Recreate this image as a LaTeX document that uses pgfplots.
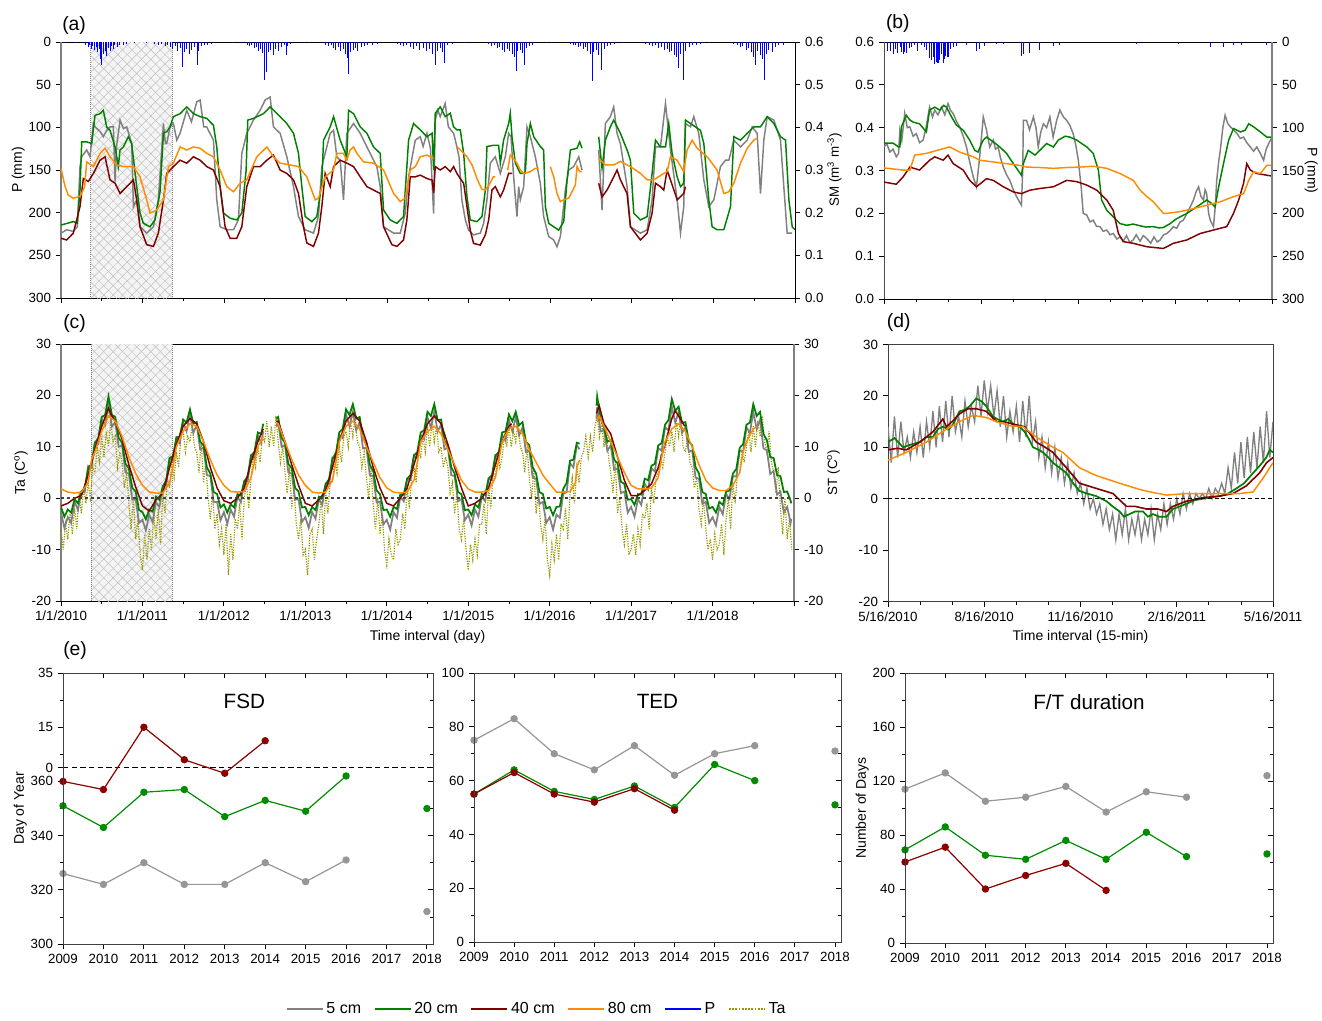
\documentclass[border=0pt]{standalone}
\usepackage{fontspec}
\setmainfont{Liberation Sans}
\usepackage{pgfplots}
\pgfplotsset{compat=1.18}
\usetikzlibrary{patterns.meta}

\definecolor{c5}{RGB}{128,128,128}
\definecolor{c20}{RGB}{0,128,0}
\definecolor{c40}{RGB}{128,0,0}
\definecolor{c80}{RGB}{255,140,0}
\definecolor{cP}{RGB}{0,0,255}
\definecolor{cTa}{RGB}{150,150,0}
\definecolor{c5e}{RGB}{150,150,150}
\definecolor{c20e}{RGB}{0,140,0}
\definecolor{c40e}{RGB}{140,0,0}

\pgfplotsset{
  every non boxed x axis/.style={},
  every non boxed y axis/.style={},
  base/.style={
    scale only axis, enlargelimits=false,
    tick align=outside, major tick length=4pt, minor tick length=2.5pt,
    tick style={black, line width=0.6pt},
    tick label style={font=\fontsize{10}{12}\selectfont},
    label style={font=\fontsize{10.5}{12.6}\selectfont},
    /pgf/number format/assume math mode=true,
    axis line style={line width=0.7pt},
    ylabel shift=-4pt,
  },
  eaxis/.style={base, xmin=2009, xmax=2018.15, xtick={2009,...,2018},
    xticklabel style={/pgf/number format/1000 sep={}},
    xtick pos=left, ytick pos=left, axis line style={black!75},
    every axis plot/.append style={line width=0.9pt, mark size=2.3pt, mark options={solid}}},
  einner/.style={scale only axis, enlargelimits=false, xmin=2009, xmax=2018.15,
    xtick={2009,...,2018}, xticklabels={}, yticklabels={}, xtick pos=right, ytick pos=right,
    tick align=inside, major tick length=4pt, minor tick length=2.5pt,
    tick style={black, line width=0.6pt}, axis line style={black!75, line width=0.7pt}},
}

\begin{document}
\begin{tikzpicture}
\useasboundingbox (0pt,0pt) rectangle (991.5pt,-765.75pt);

% ---------------- (a) precipitation and soil moisture, daily ----------------
\begin{axis}[base, at={(45.75pt,-223.5pt)}, anchor=south west, width=550.5pt, height=192pt,
  xmin=2010, xmax=2019, ymin=0, ymax=300, y dir=reverse,
  axis x line*=box, axis y line*=left,
  x axis line style={-, black}, y axis line style={-, gray, line width=1.4pt},
  xtick={2010,...,2019}, minor xtick={2010.5,2011.5,...,2018.5}, xticklabels={}, xtick pos=left,
  ytick={0,50,...,300}, ylabel={P (mm)}]
 \fill[gray!9] (axis cs:2010.365,0) rectangle (axis cs:2011.365,300);
 \fill[pattern={Lines[angle=45,distance=5pt,line width=0.35pt]}, pattern color=gray!50] (axis cs:2010.365,0) rectangle (axis cs:2011.365,300);
 \fill[pattern={Lines[angle=-45,distance=5pt,line width=0.35pt]}, pattern color=gray!50] (axis cs:2010.365,0) rectangle (axis cs:2011.365,300);
 \draw[gray, densely dotted, line width=0.5pt] (axis cs:2010.365,0) -- (axis cs:2010.365,300) (axis cs:2011.365,0) -- (axis cs:2011.365,300);
 \addplot[ycomb, cP, line width=0.6pt] coordinates {
 (2010.05,1) (2010.18,1) (2010.30,3) (2010.33,6) (2010.35,4) (2010.37,8) (2010.39,5) (2010.41,9) (2010.43,6) (2010.45,12) (2010.47,8) (2010.48,20) (2010.50,27) (2010.52,14) (2010.54,10) (2010.56,16) (2010.58,7) (2010.60,11) (2010.62,5) (2010.64,8) (2010.66,4) (2010.69,6) (2010.72,3) (2010.76,4) (2010.80,2) (2010.90,1)
 (2011.05,1) (2011.15,2) (2011.20,3) (2011.23,2) (2011.28,5) (2011.31,4) (2011.34,6) (2011.37,8) (2011.40,5) (2011.43,10) (2011.46,7) (2011.49,29) (2011.51,12) (2011.54,8) (2011.57,14) (2011.60,9) (2011.63,6) (2011.67,27) (2011.69,10) (2011.72,5) (2011.76,4) (2011.80,3) (2011.85,2)
 (2012.10,1) (2012.28,3) (2012.31,5) (2012.34,4) (2012.37,7) (2012.40,6) (2012.42,10) (2012.45,8) (2012.47,13) (2012.49,20) (2012.50,44) (2012.52,35) (2012.54,12) (2012.57,9) (2012.60,15) (2012.63,8) (2012.66,11) (2012.70,6) (2012.74,4) (2012.76,15) (2012.78,5) (2012.81,2)
 (2013.05,1) (2013.24,3) (2013.28,5) (2013.31,4) (2013.34,7) (2013.37,9) (2013.40,6) (2013.43,11) (2013.46,8) (2013.49,14) (2013.51,19) (2013.53,37) (2013.55,12) (2013.58,9) (2013.61,7) (2013.64,10) (2013.68,6) (2013.72,5) (2013.76,3) (2013.82,4) (2013.88,2)
 (2014.12,2) (2014.16,3) (2014.20,5) (2014.24,4) (2014.28,6) (2014.32,8) (2014.36,5) (2014.40,9) (2014.44,7) (2014.48,11) (2014.52,8) (2014.56,14) (2014.59,27) (2014.62,10) (2014.65,7) (2014.68,12) (2014.70,25) (2014.74,4) (2014.80,2) (2014.95,1)
 (2015.24,2) (2015.28,5) (2015.32,4) (2015.35,7) (2015.38,6) (2015.41,9) (2015.44,12) (2015.47,8) (2015.50,10) (2015.53,14) (2015.56,18) (2015.58,34) (2015.60,11) (2015.63,9) (2015.66,13) (2015.68,27) (2015.71,7) (2015.74,5) (2015.78,3) (2015.95,1)
 (2016.25,2) (2016.28,4) (2016.31,3) (2016.34,6) (2016.37,5) (2016.40,8) (2016.43,6) (2016.46,10) (2016.49,14) (2016.51,46) (2016.53,12) (2016.56,9) (2016.59,15) (2016.63,33) (2016.66,8) (2016.70,5) (2016.74,3) (2016.78,2) (2016.90,1)
 (2017.17,2) (2017.21,3) (2017.25,5) (2017.29,4) (2017.33,7) (2017.36,6) (2017.40,9) (2017.43,8) (2017.46,12) (2017.49,10) (2017.52,15) (2017.55,18) (2017.57,31) (2017.60,14) (2017.63,45) (2017.66,11) (2017.70,6) (2017.74,4) (2017.79,3) (2017.84,2) (2017.95,1)
 (2018.25,2) (2018.29,4) (2018.33,6) (2018.36,5) (2018.40,9) (2018.43,7) (2018.46,12) (2018.49,18) (2018.52,27) (2018.54,11) (2018.57,15) (2018.60,20) (2018.62,44) (2018.65,14) (2018.68,9) (2018.72,12) (2018.76,6) (2018.80,4) (2018.86,3)
 };
\end{axis}

\begin{axis}[base, at={(45.75pt,-223.5pt)}, anchor=south west, width=550.5pt, height=192pt,
  xmin=2010, xmax=2019, ymin=0, ymax=0.6,
  axis x line=none, axis y line*=right, y axis line style={-, black},
  ytick={0,0.1,0.2,0.3,0.4,0.5,0.6},
  yticklabel style={/pgf/number format/.cd, fixed, fixed zerofill, precision=1},
  ylabel={SM (m\textsuperscript{3} m\textsuperscript{-3})}, ylabel near ticks, yticklabel pos=right,
  unbounded coords=jump, every axis plot/.append style={line width=1.1pt}]
 \addplot[c5] coordinates {
 (2010.000,.152) (2010.070,.160) (2010.151,.156) (2010.200,.167) (2010.233,.308) (2010.254,.331) (2010.315,.347) (2010.356,.331) (2010.397,.409) (2010.417,.401) (2010.479,.390) (2010.519,.378) (2010.560,.393) (2010.601,.401) (2010.642,.401) (2010.663,.273) (2010.683,.358) (2010.724,.417) (2010.765,.397) (2010.806,.401) (2010.867,.362) (2010.888,.214) (2010.928,.230) (2010.969,.167)
 (2011.010,.160) (2011.051,.152) (2011.133,.167) (2011.194,.230) (2011.256,.409) (2011.280,.362) (2011.297,.362) (2011.337,.401) (2011.378,.409) (2011.420,.370) (2011.460,.386) (2011.542,.440) (2011.600,.413) (2011.665,.460) (2011.706,.464) (2011.750,.401) (2011.787,.401) (2011.869,.370) (2011.910,.230) (2011.951,.167)
 (2012.033,.160) (2012.115,.160) (2012.176,.183) (2012.217,.339) (2012.278,.386) (2012.360,.417) (2012.442,.440) (2012.503,.464) (2012.564,.471) (2012.605,.401) (2012.687,.386) (2012.769,.331) (2012.851,.261) (2012.912,.191) (2012.994,.160)
 (2013.096,.152) (2013.157,.191) (2013.198,.308) (2013.301,.386) (2013.342,.393) (2013.382,.331) (2013.423,.323) (2013.464,.230) (2013.505,.386) (2013.587,.409) (2013.669,.386) (2013.751,.354) (2013.873,.308) (2013.914,.261) (2013.955,.167)
 (2014.078,.152) (2014.160,.152) (2014.221,.199) (2014.262,.284) (2014.344,.370) (2014.405,.378) (2014.440,.355) (2014.487,.386) (2014.530,.351) (2014.569,.198) (2014.589,.417) (2014.620,.440) (2014.650,.425) (2014.710,.456) (2014.750,.401) (2014.814,.386) (2014.840,.366) (2014.880,.331) (2014.915,.230) (2014.958,.183) (2014.998,.159)
 (2015.059,.148) (2015.141,.152) (2015.182,.175) (2015.223,.230) (2015.264,.316) (2015.325,.331) (2015.387,.292) (2015.448,.331) (2015.489,.386) (2015.518,.378) (2015.550,.284) (2015.591,.191) (2015.612,.261) (2015.632,.230) (2015.673,.261) (2015.714,.401) (2015.755,.378) (2015.816,.331) (2015.877,.269) (2015.918,.191) (2015.980,.144)
 (2016.041,.136) (2016.082,.120) (2016.123,.144) (2016.184,.253) (2016.225,.300) (2016.287,.308) (2016.348,.331) (2016.389,.300) (2016.5,nan) (2016.593,.347) (2016.634,.206) (2016.675,.409) (2016.736,.425) (2016.777,.448) (2016.818,.386) (2016.859,.362) (2016.941,.261) (2016.982,.167)
 (2017.105,.152) (2017.187,.160) (2017.248,.230) (2017.289,.354) (2017.350,.354) (2017.412,.456) (2017.473,.347) (2017.555,.230) (2017.596,.152) (2017.636,.214) (2017.657,.409) (2017.718,.401) (2017.759,.425) (2017.820,.386) (2017.882,.277) (2017.943,.214)
 (2018.005,.230) (2018.086,.308) (2018.148,.323) (2018.189,.323) (2018.250,.370) (2018.332,.354) (2018.414,.370) (2018.475,.401) (2018.536,.386) (2018.577,.245) (2018.618,.370) (2018.659,.425) (2018.741,.417) (2018.822,.370) (2018.863,.261) (2018.904,.152) (2018.966,.152)
 };
 \addplot[c20] coordinates {
 (2010.000,.171) (2010.151,.179) (2010.200,.175) (2010.233,.253) (2010.254,.366) (2010.315,.366) (2010.376,.362) (2010.417,.428) (2010.479,.432) (2010.519,.440) (2010.560,.401) (2010.601,.393) (2010.663,.354) (2010.703,.308) (2010.724,.347) (2010.765,.354) (2010.826,.378) (2010.867,.362) (2010.928,.261) (2010.969,.199)
 (2011.010,.175) (2011.092,.167) (2011.153,.183) (2011.215,.249) (2011.256,.386) (2011.297,.390) (2011.337,.401) (2011.378,.425) (2011.460,.432) (2011.542,.448) (2011.624,.432) (2011.706,.425) (2011.787,.421) (2011.869,.405) (2011.910,.354) (2011.951,.261) (2011.992,.199)
 (2012.074,.187) (2012.155,.183) (2012.217,.199) (2012.270,.300) (2012.290,.417) (2012.360,.421) (2012.483,.432) (2012.564,.448) (2012.687,.425) (2012.769,.409) (2012.851,.386) (2012.912,.339) (2012.953,.261) (2012.994,.191)
 (2013.076,.179) (2013.137,.191) (2013.198,.269) (2013.219,.370) (2013.301,.401) (2013.342,.425) (2013.423,.370) (2013.505,.331) (2013.526,.440) (2013.587,.432) (2013.669,.401) (2013.751,.386) (2013.832,.354) (2013.914,.339) (2013.955,.206)
 (2014.037,.183) (2014.119,.175) (2014.200,.191) (2014.241,.308) (2014.262,.370) (2014.323,.409) (2014.405,.394) (2014.487,.378) (2014.550,.386) (2014.569,.300) (2014.589,.433) (2014.650,.448) (2014.712,.425) (2014.773,.433) (2014.814,.401) (2014.855,.394) (2014.896,.394) (2014.937,.339) (2014.978,.237)
 (2015.018,.183) (2015.100,.179) (2015.162,.191) (2015.203,.253) (2015.223,.355) (2015.305,.358) (2015.366,.358) (2015.387,.316) (2015.427,.370) (2015.489,.409) (2015.509,.433) (2015.530,.378) (2015.571,.316) (2015.632,.292) (2015.693,.292) (2015.714,.362) (2015.755,.409) (2015.796,.378) (2015.877,.355) (2015.918,.347) (2015.939,.214) (2015.980,.175)
 (2016.041,.167) (2016.102,.159) (2016.164,.179) (2016.205,.276) (2016.246,.347) (2016.327,.351) (2016.360,.366) (2016.389,.351) (2016.5,nan) (2016.593,.378) (2016.634,.304) (2016.675,.370) (2016.736,.401) (2016.777,.417) (2016.859,.386) (2016.941,.347) (2016.982,.323)
 (2017.023,.199) (2017.105,.183) (2017.187,.191) (2017.248,.292) (2017.289,.370) (2017.350,.354) (2017.412,.354) (2017.452,.409) (2017.493,.339) (2017.555,.284) (2017.596,.261) (2017.636,.269) (2017.657,.417) (2017.718,.409) (2017.841,.393) (2017.882,.362) (2017.943,.230) (2017.984,.167)
 (2018.045,.160) (2018.127,.160) (2018.209,.214) (2018.250,.378) (2018.332,.370) (2018.414,.386) (2018.495,.401) (2018.577,.401) (2018.659,.425) (2018.741,.409) (2018.822,.378) (2018.884,.370) (2018.925,.230) (2018.966,.167) (2019.000,.160)
 };
 \addplot[c40] coordinates {
 (2010.000,.140) (2010.070,.136) (2010.151,.152) (2010.233,.214) (2010.274,.280) (2010.335,.273) (2010.397,.292) (2010.479,.323) (2010.540,.331) (2010.601,.277) (2010.663,.269) (2010.724,.245) (2010.806,.261) (2010.888,.277) (2010.928,.230) (2010.969,.167)
 (2011.051,.125) (2011.133,.121) (2011.194,.152) (2011.256,.230) (2011.297,.292) (2011.378,.308) (2011.460,.323) (2011.542,.316) (2011.624,.331) (2011.706,.323) (2011.787,.308) (2011.869,.300) (2011.951,.261)
 (2012.012,.167) (2012.074,.140) (2012.155,.140) (2012.217,.167) (2012.278,.261) (2012.360,.308) (2012.442,.308) (2012.524,.323) (2012.605,.335) (2012.687,.300) (2012.769,.292) (2012.851,.277) (2012.912,.245) (2012.973,.167)
 (2013.014,.129) (2013.096,.121) (2013.157,.152) (2013.198,.214) (2013.239,.292) (2013.301,.261) (2013.342,.308) (2013.423,.323) (2013.505,.316) (2013.587,.308) (2013.669,.284) (2013.751,.261) (2013.832,.253) (2013.914,.245) (2013.955,.167)
 (2014.057,.125) (2014.119,.121) (2014.200,.136) (2014.241,.183) (2014.282,.284) (2014.344,.284) (2014.405,.288) (2014.487,.280) (2014.550,.276) (2014.569,.246) (2014.589,.308) (2014.650,.300) (2014.712,.308) (2014.773,.296) (2014.814,.308) (2014.855,.292) (2014.896,.280) (2014.937,.269) (2014.978,.214)
 (2015.018,.159) (2015.059,.128) (2015.141,.124) (2015.203,.148) (2015.244,.183) (2015.284,.253) (2015.325,.261) (2015.387,.237) (2015.427,.253) (2015.489,.292) (2015.530,.292) (2016.0,nan)
 (2016.593,.269) (2016.634,.237) (2016.695,.253) (2016.757,.276) (2016.818,.300) (2016.859,.277) (2016.941,.245) (2016.982,.167)
 (2017.105,.136) (2017.187,.152) (2017.248,.199) (2017.289,.269) (2017.350,.261) (2017.391,.253) (2017.432,.300) (2017.473,.277) (2017.555,.230) (2017.636,.245) (2017.657,.261)
 };
 \addplot[c80] coordinates {
 (2010.000,.304) (2010.050,.261) (2010.090,.241) (2010.151,.234) (2010.233,.238) (2010.290,.261) (2010.315,.319) (2010.397,.308) (2010.479,.339) (2010.540,.351) (2010.601,.331) (2010.683,.312) (2010.765,.308) (2010.888,.308) (2010.969,.284)
 (2011.051,.230) (2011.092,.199) (2011.174,.206) (2011.256,.230) (2011.317,.308) (2011.378,.316) (2011.460,.354) (2011.542,.347) (2011.624,.354) (2011.706,.351) (2011.787,.339) (2011.869,.331) (2011.951,.300)
 (2012.033,.261) (2012.115,.249) (2012.196,.269) (2012.278,.277) (2012.401,.331) (2012.524,.354) (2012.605,.331) (2012.687,.316) (2012.810,.312) (2012.912,.308)
 (2013.014,.284) (2013.117,.230) (2013.157,.234) (2013.239,.284) (2013.342,.300) (2013.382,.339) (2013.464,.339) (2013.505,.323) (2013.546,.347) (2013.587,.354) (2013.628,.339) (2013.710,.319) (2013.832,.316) (2013.955,.300)
 (2014.078,.245) (2014.160,.226) (2014.221,.234) (2014.282,.300) (2014.344,.308) (2014.405,.331) (2014.487,.335) (2014.569,.327) (2014.7,nan)
 (2014.855,.355) (2014.917,.343) (2014.978,.331) (2015.040,.312) (2015.100,.280) (2015.160,.255) (2015.200,.253) (2015.250,.265) (2015.300,.284) (2015.325,.284) (2015.4,nan)
 (2015.477,.300) (2015.509,.335) (2015.550,.327) (2015.591,.316) (2015.632,.300) (2015.673,.292) (2015.755,.296) (2015.816,.304) (2015.857,.304) (2015.93,nan)
 (2016.000,.308) (2016.041,.284) (2016.082,.245) (2016.123,.226) (2016.164,.230) (2016.225,.234) (2016.266,.249) (2016.307,.265) (2016.327,.308) (2016.360,.296) (2016.389,.296) (2016.5,nan)
 (2016.593,.327) (2016.675,.312) (2016.777,.312) (2016.859,.320) (2016.982,.308) (2017.105,.292) (2017.187,.277) (2017.268,.277) (2017.391,.292) (2017.432,.296) (2017.473,.331) (2017.555,.323) (2017.636,.296) (2017.677,.347) (2017.739,.370) (2017.800,.351) (2017.923,.331)
 (2018.045,.300) (2018.127,.245) (2018.189,.249) (2018.250,.269) (2018.332,.316) (2018.414,.351) (2018.495,.370) (2018.536,.374)
 };
\end{axis}

% ---------------- (b) 5/16/2010 - 5/16/2011, 15-min ----------------
\begin{axis}[base, at={(663pt,-224.25pt)}, anchor=south west, width=291pt, height=192.75pt,
  xmin=0, xmax=12, ymin=0, ymax=0.6,
  axis x line*=box, axis y line*=left,
  x axis line style={-, black}, y axis line style={-, black!70},
  xtick={0,3,6,9,12}, minor xtick={1,2,4,5,7,8,10,11}, xticklabels={}, xtick pos=left,
  ytick={0,0.1,0.2,0.3,0.4,0.5,0.6},
  yticklabel style={/pgf/number format/.cd, fixed, fixed zerofill, precision=1},
  every axis plot/.append style={line width=1.1pt}]
 \addplot[c5] coordinates {
 (0.00,.355) (0.09,.362) (0.18,.343) (0.28,.350) (0.38,.332) (0.45,.340) (0.49,.394) (0.55,.370) (0.64,.433) (0.72,.400) (0.80,.402) (0.90,.380) (1.00,.386) (1.10,.365) (1.21,.371) (1.30,.400) (1.41,.448) (1.50,.425) (1.57,.441) (1.67,.430) (1.78,.448) (1.88,.430) (1.98,.456) (2.06,.440) (2.14,.433) (2.24,.415) (2.34,.402) (2.45,.380) (2.55,.355) (2.65,.320) (2.76,.285) (2.86,.262) (2.96,.332) (3.07,.425) (3.17,.394) (3.27,.355) (3.38,.371) (3.45,.350) (3.53,.355) (3.60,.330) (3.69,.308) (3.79,.290) (3.89,.277) (4.00,.255) (4.10,.239) (4.25,.219) (4.29,.300) (4.31,.417) (4.41,.417) (4.50,.395) (4.62,.425) (4.70,.400) (4.77,.355) (4.85,.390) (4.93,.409) (5.03,.400) (5.13,.425) (5.23,.378) (5.34,.417) (5.44,.441) (5.55,.425) (5.65,.417) (5.75,.405) (5.85,.386) (5.93,.360) (6.01,.324) (6.10,.260) (6.16,.200) (6.27,.196) (6.37,.180) (6.47,.184) (6.57,.170) (6.68,.169) (6.78,.158) (6.89,.161) (6.99,.150) (7.09,.153) (7.20,.140) (7.30,.145) (7.40,.135) (7.50,.148) (7.60,.132) (7.71,.138) (7.80,.150) (7.92,.135) (8.02,.148) (8.13,.141) (8.25,.130) (8.35,.145) (8.45,.133) (8.54,.138) (8.65,.150) (8.75,.153) (8.85,.160) (8.95,.169) (9.05,.165) (9.16,.180) (9.26,.184) (9.37,.200) (9.47,.215) (9.57,.231) (9.65,.250) (9.73,.262) (9.80,.240) (9.88,.231) (9.93,.255) (9.98,.246) (10.04,.200) (10.09,.184) (10.19,.169) (10.25,.220) (10.29,.277) (10.35,.320) (10.40,.347) (10.48,.400) (10.55,.429) (10.63,.410) (10.71,.402) (10.81,.395) (10.92,.386) (11.02,.375) (11.12,.378) (11.22,.365) (11.33,.355) (11.43,.345) (11.53,.355) (11.64,.340) (11.74,.324) (11.82,.350) (11.90,.363) (12.00,.378)
 };
 \addplot[c20] coordinates {
 (0.00,.364) (0.28,.364) (0.45,.355) (0.49,.355) (0.54,.402) (0.69,.429) (0.80,.418) (0.90,.413) (1.10,.409) (1.31,.390) (1.41,.441) (1.57,.448) (1.72,.441) (1.85,.452) (1.93,.448) (2.09,.425) (2.24,.406) (2.45,.394) (2.65,.371) (2.81,.347) (2.91,.343) (3.00,.360) (3.07,.371) (3.17,.378) (3.38,.367) (3.58,.355) (3.79,.340) (4.00,.316) (4.25,.289) (4.31,.316) (4.46,.347) (4.67,.336) (4.82,.347) (5.03,.363) (5.24,.355) (5.39,.371) (5.60,.380) (5.75,.378) (5.96,.371) (6.27,.355) (6.47,.340) (6.63,.301) (6.73,.231) (6.89,.207) (7.09,.192) (7.30,.176) (7.51,.172) (7.70,.175) (7.92,.171) (8.10,.168) (8.33,.169) (8.50,.166) (8.64,.167) (8.85,.176) (9.00,.185) (9.16,.192) (9.37,.200) (9.67,.215) (9.98,.231) (10.10,.225) (10.24,.215) (10.35,.262) (10.50,.316) (10.66,.371) (10.81,.398) (11.02,.390) (11.17,.394) (11.28,.409) (11.43,.402) (11.64,.390) (11.84,.378) (12.00,.378)
 };
 \addplot[c40] coordinates {
 (0.00,.273) (0.38,.268) (0.59,.285) (0.80,.308) (1.10,.301) (1.41,.324) (1.57,.332) (1.83,.324) (1.98,.336) (2.14,.316) (2.45,.301) (2.65,.277) (2.86,.262) (3.17,.281) (3.38,.277) (3.69,.262) (4.00,.250) (4.25,.246) (4.51,.254) (4.82,.258) (5.24,.262) (5.65,.277) (5.96,.274) (6.27,.266) (6.58,.254) (6.89,.231) (7.09,.207) (7.25,.153) (7.40,.134) (7.71,.130) (8.13,.122) (8.64,.118) (8.95,.130) (9.37,.138) (9.78,.153) (10.19,.161) (10.60,.169) (10.81,.200) (10.97,.231) (11.12,.270) (11.22,.316) (11.33,.301) (11.53,.293) (11.84,.289) (12.00,.287)
 };
 \addplot[c80] coordinates {
 (0.00,.306) (0.59,.301) (0.80,.301) (0.95,.336) (1.31,.340) (1.83,.351) (2.03,.355) (2.34,.343) (2.76,.332) (2.96,.324) (3.38,.320) (3.79,.316) (4.20,.312) (4.41,.308) (4.82,.307) (5.24,.305) (5.65,.307) (6.06,.308) (6.47,.310) (6.89,.305) (7.30,.293) (7.71,.277) (7.92,.254) (8.13,.239) (8.33,.227) (8.64,.200) (8.75,.200) (9.16,.204) (9.57,.211) (9.98,.219) (10.40,.227) (10.81,.239) (11.12,.246) (11.28,.277) (11.43,.297) (11.64,.293) (11.84,.312) (12.00,.312)
 };
\end{axis}

\begin{axis}[base, at={(663pt,-224.25pt)}, anchor=south west, width=291pt, height=192.75pt,
  xmin=0, xmax=12, ymin=0, ymax=300, y dir=reverse,
  axis x line=none, axis y line*=right, y axis line style={-, gray, line width=1.4pt},
  ytick={0,50,...,300}, yticklabel pos=right]
 \addplot[ycomb, cP, line width=0.8pt] coordinates {
 (0.12,10) (0.20,11) (0.28,14) (0.35,8) (0.43,13) (0.50,6) (0.54,12) (0.60,14) (0.64,12) (0.71,13) (0.78,7) (0.85,6) (0.95,4) (1.05,10) (1.16,4) (1.25,6) (1.30,9) (1.41,19) (1.47,21) (1.52,18) (1.57,26) (1.62,23) (1.67,25) (1.72,21) (1.78,14) (1.83,24) (1.87,20) (1.91,16) (1.98,18) (2.05,8) (2.14,6) (2.24,5) (2.55,3) (2.86,10) (2.96,8) (3.12,5) (3.48,2) (3.69,2) (4.25,16) (4.31,14) (4.51,13) (4.82,9) (5.23,5) (5.44,3) (7.82,2) (9.11,2) (10.09,6) (10.50,6) (10.81,3) (11.07,4) (11.84,4)
 };
\end{axis}
\node[rotate=-90, inner sep=0pt, font=\fontsize{10.5}{12.6}\selectfont] at (983.5pt,-128pt) {P (mm)};

% ---------------- (c) air and soil temperature, daily ----------------
\begin{axis}[base, at={(45.75pt,-450.75pt)}, anchor=south west, width=549.75pt, height=192.75pt,
  xmin=0, xmax=108, ymin=-20, ymax=30, separate axis lines,
  x axis line style={black}, y axis line style={gray, line width=1.4pt},
  xtick={0,12,...,108}, xticklabels={1/1/2010,1/1/2011,1/1/2012,1/1/2013,1/1/2014,1/1/2015,1/1/2016,1/1/2017,1/1/2018,{}},
  minor xtick={6,18,...,102}, xtick pos=left,
  ytick={-20,-10,...,30}, ytick pos=left,
  ylabel={Ta (C\textsuperscript{o})}, xlabel={Time interval (day)},
  unbounded coords=jump]
 \fill[gray!9] (axis cs:4.4,-20) rectangle (axis cs:16.4,30);
 \fill[pattern={Lines[angle=45,distance=5pt,line width=0.35pt]}, pattern color=gray!50] (axis cs:4.4,-20) rectangle (axis cs:16.4,30);
 \fill[pattern={Lines[angle=-45,distance=5pt,line width=0.35pt]}, pattern color=gray!50] (axis cs:4.4,-20) rectangle (axis cs:16.4,30);
 \draw[gray, densely dotted, line width=0.5pt] (axis cs:4.4,-20) -- (axis cs:4.4,30) (axis cs:16.4,-20) -- (axis cs:16.4,30);
 \addplot[cTa, densely dotted, line width=0.9pt] coordinates {
 (0,-6) (0.33,-10) (0.67,-5) (1,-8) (1.33,-3) (1.67,-7) (2,-2) (2.33,-6) (2.67,1) (3,-3) (3.33,2) (3.67,-1) (4,3) (4.33,0) (4.67,6) (5,5) (5.33,10) (5.67,7) (6,12) (6.33,8) (6.67,13) (7,10) (7.33,15) (7.67,11) (8,12) (8.33,6) (8.67,9) (9,7) (9.33,2) (9.67,5) (10,-1) (10.33,-6) (10.67,0) (11,-8) (11.33,-4) (11.67,-11)
 (12,-14) (12.33,-7) (12.67,-12) (13,-6) (13.33,-10) (13.67,-3) (14,-8) (14.33,-2) (14.67,-9) (15,1) (15.33,-3) (15.67,4) (16,2) (16.33,7) (16.67,4) (17,9) (17.33,6) (17.67,12) (18,13) (18.33,9) (18.67,12) (19,11) (19.33,14) (19.67,10) (20,9) (20.33,5) (20.67,11) (21,3) (21.33,7) (21.67,0) (22,-4) (22.33,1) (22.67,-6) (23,-3) (23.33,-9) (23.67,-6)
 (24,-11) (24.33,-5) (24.67,-15) (25,-7) (25.33,-12) (25.67,-4) (26,-6) (26.33,-1) (26.67,-8) (27,0) (27.33,3) (27.67,-2) (28,4) (28.33,8) (28.67,6) (29,10) (29.33,7) (29.67,12) (30,11) (30.33,15) (30.67,10) (31,14) (31.33,10) (31.67,16) (32,11) (32.33,7) (32.67,10) (33,5) (33.33,1) (33.67,6) (34,-2) (34.33,2) (34.67,-5) (35,-8) (35.33,-4) (35.67,-11)
 (36,-10) (36.33,-15) (36.67,-7) (37,-6) (37.33,-12) (37.67,-8) (38,-5) (38.33,0) (38.67,-7) (39,1) (39.33,-3) (39.67,4) (40,3) (40.33,8) (40.67,5) (41,10) (41.33,7) (41.67,12) (42,13) (42.33,10) (42.67,15) (43,12) (43.33,16) (43.67,11) (44,10) (44.33,6) (44.67,9) (45,4) (45.33,0) (45.67,6) (46,-1) (46.33,-6) (46.67,0) (47,-7) (47.33,-3) (47.67,-10)
 (48,-13) (48.33,-8) (48.67,-11) (49,-12) (49.33,-6) (49.67,-9) (50,-8) (50.33,-3) (50.67,-6) (51,2) (51.33,-2) (51.67,4) (52,6) (52.33,3) (52.67,9) (53,8) (53.33,12) (53.67,9) (54,14) (54.33,10) (54.67,15) (55,11) (55.33,14) (55.67,9) (56,10) (56.33,6) (56.67,8) (57,6) (57.33,1) (57.67,3) (58,-3) (58.33,1) (58.67,-6) (59,-8) (59.33,-4) (59.67,-10)
 (60,-14) (60.33,-9) (60.67,-12) (61,-8) (61.33,-11) (61.67,-5) (62,-5) (62.33,-1) (62.67,-7) (63,2) (63.33,-2) (63.67,5) (64,4) (64.33,9) (64.67,6) (65,8) (65.33,12) (65.67,10) (66,14) (66.33,10) (66.67,13) (67,11) (67.33,15) (67.67,10) (68,9) (68.33,5) (68.67,10) (69,4) (69.33,0) (69.67,6) (70,-3) (70.33,1) (70.67,-5) (71,-8) (71.33,-4) (71.67,-12)
 (72,-15) (72.33,-9) (72.67,-12) (73,-7) (73.33,-12) (73.67,-5) (74,-6) (74.33,-2) (74.67,-8) (75,1) (75.33,4) (75.67,-1) (76,6) (76.33,3) (76.67,8) (77,9) (77.33,12) (77.67,8) (78,12) (78.33,9) (78.67,14) (79,16) (79.33,12) (79.67,15) (80,10) (80.33,14) (80.67,8) (81,5) (81.33,1) (81.67,7) (82,-3) (82.33,0) (82.67,-6) (83,-9) (83.33,-5) (83.67,-11)
 (84,-10) (84.33,-7) (84.67,-11) (85,-6) (85.33,-9) (85.67,-3) (86,-4) (86.33,-1) (86.67,-6) (87,2) (87.33,-1) (87.67,4) (88,5) (88.33,8) (88.67,6) (89,9) (89.33,12) (89.67,10) (90,13) (90.33,9) (90.67,15) (91,12) (91.33,16) (91.67,10) (92,9) (92.33,12) (92.67,7) (93,6) (93.33,2) (93.67,4) (94,-2) (94.33,-5) (94.67,0) (95,-6) (95.33,-10) (95.67,-8)
 (96,-12) (96.33,-7) (96.67,-10) (97,-9) (97.33,-5) (97.67,-11) (98,-4) (98.33,0) (98.67,-6) (99,3) (99.33,-1) (99.67,5) (100,5) (100.33,9) (100.67,7) (101,10) (101.33,13) (101.67,9) (102,14) (102.33,10) (102.67,15) (103,12) (103.33,16) (103.67,11) (104,9) (104.33,13) (104.67,7) (105,5) (105.33,1) (105.67,6) (106,-2) (106.33,-7) (106.67,0) (107,-8) (107.33,-4) (107.67,-10)
 };
 \addplot[c5, line width=1.3pt] coordinates {
 (0,-2.7) (0.5,-5.8) (1,-3.7) (1.5,-4.8) (2,-0.7) (2.5,-2.3) (3,1.3) (3.5,1.2) (4,6.3) (4.5,6) (5,10.8) (5.5,10.5) (6,15.3) (6.5,14.2) (7,18.3) (7.5,14) (8,14.8) (8.5,10) (9,10.3) (9.5,5) (10,4.8) (10.5,-0.3) (11,-0.2) (11.5,-4.8)
 (12,-4.2) (12.5,-6.3) (13,-3.2) (13.5,-4.6) (14,-0.7) (14.5,-1.8) (15,2.3) (15.5,2.5) (16,7.8) (16.5,7.2) (17,11.8) (17.5,10.7) (18,14.8) (18.5,13) (19,16.3) (19.5,12.7) (20,14.3) (20.5,9.5) (21,9.8) (21.5,4.5) (22,4.3) (22.5,-0.8) (23,-0.7) (23.5,-4.3)
 (24,-2.7) (24.5,-5) (25,-2.2) (25.5,-3.6) (26,0.3) (26.5,-0.8) (27,3.3) (27.5,3.2) (28,8.3) (28.5,7.7) (29,12.3) (29.5,10.7) (29.8,13) (30.5,nan) (31.75,14) (32,14.8) (32.5,10) (33,10.3) (33.5,5) (34,4.8) (34.5,-0.3) (35,-0.2) (35.5,-4.6)
 (36,-3.7) (36.5,-5.8) (37,-2.7) (37.5,-4) (38,-0.2) (38.5,-1.3) (39,2.8) (39.5,2.7) (40,7.8) (40.5,7.5) (41,12.3) (41.5,11.7) (42,16.3) (42.5,14) (43,16.8) (43.5,13.2) (44,14.8) (44.5,9.7) (45,9.8) (45.5,4.5) (46,4.3) (46.5,-0.8) (47,-0.7) (47.5,-5.1)
 (48,-4.2) (48.5,-6.1) (49,-2.7) (49.5,-3.8) (50,0.3) (50.5,-0.6) (51,3.8) (51.5,3.5) (52,8.3) (52.5,7.7) (53,12.3) (53.5,11.5) (54,15.8) (54.5,13.7) (55,16.8) (55.5,13) (56,14.3) (56.5,9.5) (57,9.8) (57.5,4.5) (58,4.3) (58.5,-0.6) (59,-0.2) (59.5,-4.3)
 (60,-3.2) (60.5,-5.3) (61,-2.2) (61.5,-3.6) (62,0.3) (62.5,-0.6) (63,3.8) (63.5,3.5) (64,8.3) (64.5,7.7) (65,12.3) (65.5,11.2) (66,15.3) (66.5,13) (67,15.8) (67.5,12.2) (68,13.8) (68.5,9) (69,9.3) (69.5,4) (70,3.8) (70.5,-1.1) (71,-0.7) (71.5,-4.8)
 (72,-3.7) (72.5,-6.1) (73,-3.2) (73.5,-3.8) (74,0.8) (74.5,1.2) (75,6.8) (75.5,6) (76,10.3) (76.4,9.5) (77.5,nan) (78.9,15.5) (79,17.8) (79.5,13) (80,13.3) (80.5,9.2) (81,10.3) (81.5,5.5) (82,5.8) (82.5,1) (83,1.3) (83.5,-2.8)
 (84,-1.7) (84.5,-3.6) (85,-0.2) (85.5,-1.3) (86,2.8) (86.5,1.7) (87,5.8) (87.5,5.2) (88,9.8) (88.5,9.2) (89,13.8) (89.5,13.2) (90,17.8) (90.5,14.7) (91,16.8) (91.5,12.7) (92,13.8) (92.5,9) (93,9.3) (93.5,4) (94,3.8) (94.5,-1.1) (95,-0.7) (95.5,-4.8)
 (96,-3.7) (96.5,-5.3) (97,-1.7) (97.5,-3.1) (98,0.8) (98.5,-0.1) (99,4.3) (99.5,4.2) (100,9.3) (100.5,9) (101,13.8) (101.5,12.7) (102,16.8) (102.5,13.5) (103,15.3) (103.5,9.7) (104,9.3) (104.5,4.7) (105,5.3) (105.5,0.7) (106,1.3) (106.5,-2.8) (107,-1.7) (107.5,-4.8) (107.6,-4)
 };
 \addplot[c20, line width=1.3pt] coordinates {
 (0,-1.7) (0.5,-3.6) (1,-2.2) (1.5,-2.8) (2,-0.2) (2.5,-1) (3,1.3) (3.5,2) (4,5.8) (4.5,6.7) (5,10.8) (5.5,11.7) (6,15.8) (6.5,16.2) (7,19.8) (7.5,16.2) (8,15.8) (8.5,11.7) (9,10.8) (9.5,6.7) (10,5.8) (10.5,2) (11,1.3) (11.5,-2.3)
 (12,-2.7) (12.5,-4.1) (13,-2.2) (13.5,-2.6) (14,0.3) (14.5,-0.3) (15,2.3) (15.5,3.5) (16,7.8) (16.5,8.2) (17,11.8) (17.5,12) (18,15.3) (18.5,14.7) (19,17.3) (19.5,14.5) (20,14.8) (20.5,11) (21,10.3) (21.5,6) (22,4.8) (22.5,1.2) (23,0.8) (23.5,-1.8)
 (24,-1.2) (24.5,-2.8) (25,-1.2) (25.5,-1.8) (26,0.8) (26.5,0.5) (27,3.3) (27.5,4.2) (28,8.3) (28.5,9) (29,12.8) (29.5,12.5) (29.8,14.5) (30.5,nan) (31.75,15.5) (32,15.8) (32.5,11.7) (33,10.8) (33.5,6.7) (34,5.8) (34.5,2) (35,1.3) (35.5,-1.8)
 (36,-1.7) (36.5,-3.3) (37,-1.7) (37.5,-2.3) (38,0.3) (38.5,0) (39,2.8) (39.5,3.7) (40,7.8) (40.5,8.7) (41,12.8) (41.5,13.5) (42,17.3) (42.5,16.2) (43,18.3) (43.5,15.5) (44,15.8) (44.5,11.7) (45,10.8) (45.5,6.5) (46,5.3) (46.5,1.5) (47,0.8) (47.5,-2.3)
 (48,-2.2) (48.5,-3.6) (49,-1.7) (49.5,-2.1) (50,0.8) (50.5,0.7) (51,3.8) (51.5,4.5) (52,8.3) (52.5,9) (53,12.8) (53.5,13.2) (54,16.8) (54.5,16) (55,18.3) (55.5,15.2) (56,15.3) (56.5,11.2) (57,10.3) (57.5,6) (58,4.8) (58.5,1.2) (59,0.8) (59.5,-2.3)
 (60,-2.2) (60.5,-3.3) (61,-1.2) (61.5,-1.8) (62,0.8) (62.5,0.7) (63,3.8) (63.5,4.5) (64,8.3) (64.5,9) (65,12.8) (65.5,13) (66,16.3) (66.5,15) (67,16.8) (67.5,14.2) (68,14.8) (68.5,11) (69,10.3) (69.5,6) (70,4.8) (70.5,1.2) (71,0.8) (71.5,-2)
 (72,-1.7) (72.5,-3.3) (73,-1.7) (73.5,-1.6) (74,1.8) (74.5,3) (75,7.3) (75.5,7.5) (76,10.8) (76.4,10.6) (77.5,nan) (78.9,18) (79,19.8) (79.5,15.5) (80,13.8) (80.5,11) (81,11.3) (81.5,7.5) (82,6.8) (82.5,3.2) (83,2.8) (83.5,-0.3)
 (84,-0.2) (84.5,-1.3) (85,0.8) (85.5,0.7) (86,3.8) (86.5,3.5) (87,6.3) (87.5,6.7) (88,10.3) (88.5,10.7) (89,14.3) (89.5,15.2) (90,19.3) (90.5,17) (91,17.8) (91.5,14.7) (92,14.8) (92.5,11) (93,10.3) (93.5,6) (94,4.8) (94.5,1.2) (95,0.8) (95.5,-2)
 (96,-1.7) (96.5,-2.8) (97,-0.7) (97.5,-1.3) (98,1.3) (98.5,1.5) (99,4.8) (99.5,5.7) (100,9.8) (100.5,10.5) (101,14.3) (101.5,14.7) (102,18.3) (102.5,16) (103,16.8) (103.5,12.5) (104,11.3) (104.5,8) (105,7.8) (105.5,4.5) (106,4.3) (106.5,1.2) (107,1.3) (107.5,-0.5) (107.6,-1)
 };
 \addplot[c40, line width=1.1pt] coordinates {
 (0,-1.5) (1,-1) (2,0) (3,0.5) (4,4.5) (5,9.5) (6,14) (7,17.5) (7.5,16) (8,15) (9,11.5) (10,6.5) (11,2.2)
 (12,-1.5) (13,-2.5) (14,-0.3) (15,1) (16,6) (17,10.5) (18,14) (19,15.5) (20,14.5) (21,11) (22,6) (23,2)
 (24,-0.5) (25,-1) (26,0) (27,2) (28,7) (29,11) (29.8,13.5) (30.5,nan) (31.75,15) (32,15) (33,11) (34,6.5) (35,2.5)
 (36,-1) (37,-1.5) (38,-0.3) (39,1.5) (40,6) (41,11) (42,15) (43,16.5) (44,15) (45,11) (46,6) (47,2)
 (48,-1) (49,-1.5) (50,0) (51,2) (52,6.5) (53,11) (54,14.5) (55,16) (56,14.5) (57,10.5) (58,6) (59,2)
 (60,-1.5) (61,-1) (62,0) (63,2) (64,6.5) (65,11) (66,14) (66.4,14.5) (72,nan)
 (78.9,16.5) (79.3,18) (80,14.5) (81,12.5) (82,8) (83,3.5) (84,0.5) (85,0.5) (86,1.5) (87,2.8) (88,6) (89,10.5) (90,15.5) (90.5,17) (91,16) (91.9,14)
 };
 \addplot[c80, line width=1.1pt] coordinates {
 (0,1.8) (1,1.2) (2,1.0) (3,1.2) (4,3) (4.5,7.5) (5,9) (6,13) (7,16) (8,15) (9,12) (10,8) (11,4.8)
 (12,2.5) (13,1.2) (14,1) (15,1) (16,3) (16.5,6) (17,10) (18,13) (19,14.5) (20,14) (21,11) (22,7.5) (23,4.5)
 (24,2.5) (25,1.3) (26,1.2) (27,1.3) (28,4) (28.5,7) (29,10) (29.8,12) (30.5,nan) (31.75,14.5) (32,14.5) (33,11) (34,7.5) (35,4.5)
 (36,2.5) (37,1.2) (38,1) (39,1.2) (40,3.5) (40.5,7) (41,11) (42,14) (43,15) (44,13.5) (45,10) (46,7) (47,4)
 (48,2) (49,1.2) (50,1) (51,1.2) (52,3.5) (52.5,7) (53,11) (54,13) (55,14) (56,12.5) (57,9.5) (58,6.5) (59,3.5)
 (60,1.8) (61,1.2) (62,1.2) (63,1.5) (64,4) (64.5,7.5) (65,11) (66,13.5) (67,14) (68,12.5) (69,9.5) (70,7) (71,4.5)
 (72,2.8) (73,1.2) (74,1.2) (75,1.3) (75.8,3) (76,6) (76.4,7.4) (77.5,nan) (78.9,15) (79.3,16) (80,14) (81,11) (82,8) (83,5)
 (84,2.5) (85,1.8) (86,1.8) (87,2) (88,4) (88.5,8) (89,11) (90,13.5) (91,14.5) (92,13) (93,10) (94,6.5) (95,3.5)
 (96,2) (97,1.5) (98,1.5) (99,2.5) (100,5) (100.5,9) (101,11) (102,13.5) (102.6,14)
 };
 \addplot[black!75, dash pattern=on 2.5pt off 2pt, line width=1.2pt, forget plot] coordinates {(0,0) (108,0)};
\end{axis}

\begin{axis}[base, at={(45.75pt,-450.75pt)}, anchor=south west, width=549.75pt, height=192.75pt,
  xmin=0, xmax=108, ymin=-20, ymax=30,
  axis x line=none, axis y line*=right, y axis line style={-, gray, line width=1.4pt},
  ytick={-20,-10,...,30}, ylabel={ST (C\textsuperscript{o})}, ylabel near ticks, yticklabel pos=right]
 \addplot[draw=none, forget plot] coordinates {(0,0)};
\end{axis}

% ---------------- (d) 5/16/2010 - 5/16/2011, 15-min ----------------
\begin{axis}[base, at={(666pt,-451.1pt)}, anchor=south west, width=288.75pt, height=192.75pt,
  xmin=0, xmax=12, ymin=-20, ymax=30, axis line style={black!75},
  xtick={0,3,6,9,12}, minor xtick={1,2,4,5,7,8,10,11},
  xticklabels={5/16/2010,8/16/2010,11/16/2010,2/16/2011,5/16/2011}, xtick pos=left,
  ytick={-20,-10,...,30}, ytick pos=left,
  xlabel={Time interval (15-min)}]
 \addplot[c5, line width=1pt] coordinates {
 (0.00,14) (0.10,7) (0.20,16) (0.30,8) (0.40,15) (0.50,9) (0.60,12) (0.70,8) (0.80,13) (0.90,9) (1.00,14) (1.10,8) (1.20,15) (1.30,10) (1.40,17) (1.50,10) (1.60,18) (1.70,11) (1.80,19) (1.90,12) (2.00,20) (2.10,13) (2.20,16) (2.30,12) (2.40,19) (2.50,14) (2.60,18) (2.70,15) (2.80,22) (2.90,16) (3.00,23) (3.10,17) (3.20,22) (3.30,16) (3.40,21) (3.50,14) (3.60,20) (3.70,12) (3.80,17) (3.90,13) (4.00,18) (4.10,11) (4.20,19) (4.30,12) (4.40,20) (4.50,11) (4.60,15) (4.70,8) (4.80,12) (4.90,6) (5.00,11) (5.10,5) (5.20,10) (5.30,4) (5.40,8) (5.50,3) (5.60,7) (5.70,2) (5.80,5) (5.90,1) (6.00,3) (6.10,-1) (6.20,2) (6.30,-2) (6.40,0) (6.50,-3) (6.60,-1) (6.70,-5) (6.80,-2) (6.90,-6) (7.00,-3) (7.10,-8) (7.20,-3) (7.30,-7) (7.40,-2) (7.50,-8) (7.60,-4) (7.70,-7) (7.80,-3) (7.90,-8) (8.00,-4) (8.10,-7) (8.20,-2) (8.30,-8) (8.40,-3) (8.50,-6) (8.60,-1) (8.70,-5) (8.80,-1) (8.90,-4) (9.00,0) (9.10,-3) (9.20,1) (9.30,-2) (9.40,1) (9.50,-1) (9.60,1) (9.70,0) (9.80,1) (9.90,0) (10.00,2) (10.10,0) (10.20,2) (10.30,1) (10.40,3) (10.50,1) (10.60,6) (10.70,2) (10.80,9) (10.90,3) (11.00,11) (11.10,4) (11.20,12) (11.30,5) (11.40,13) (11.50,6) (11.60,14) (11.70,7) (11.80,17) (11.90,8) (12.00,15)
 };
 \addplot[c20, line width=1.3pt] coordinates {
 (0.00,11) (0.2,11.8) (0.47,10) (0.7,10.5) (0.99,11) (1.2,12) (1.40,12) (1.55,13.5) (1.71,14) (1.9,13.5) (2.03,14.5) (2.23,17) (2.4,17.3) (2.55,18) (2.75,19.5) (2.9,19) (3.06,18) (3.27,16) (3.4,15.5) (3.58,15) (3.75,15.5) (3.90,14.5) (4.10,14) (4.26,13) (4.4,11.5) (4.52,10) (4.7,9.5) (4.83,9) (5.0,8) (5.14,7) (5.35,6) (5.56,5) (5.77,3) (5.97,1.5) (6.2,1) (6.49,0.5) (6.81,-0.5) (7.0,-1.5) (7.22,-2.5) (7.35,-3.5) (7.53,-3) (7.7,-2.5) (7.95,-2.5) (8.1,-3.5) (8.26,-3) (8.45,-3.5) (8.68,-3.5) (8.88,-2) (9.1,-1.5) (9.30,-1) (9.55,-0.3) (9.82,0) (10.1,0.3) (10.34,0.5) (10.6,1) (10.86,2) (11.1,3) (11.38,5) (11.6,6.5) (11.79,8) (11.9,9.5) (12.00,9)
 };
 \addplot[c40, line width=1.2pt] coordinates {
 (0.00,9.5) (0.3,9.8) (0.57,9.5) (0.99,11) (1.4,13) (1.71,15.5) (1.82,14) (2.0,15) (2.23,16.5) (2.5,17.5) (2.75,17.5) (3.06,17) (3.38,15) (3.6,15) (3.90,14.5) (4.26,14) (4.62,11) (4.9,10) (5.14,9) (5.56,6) (5.97,3) (6.49,2) (7.01,1) (7.43,-1.5) (7.7,-1.5) (8.05,-2) (8.4,-2) (8.68,-2.5) (8.88,-1.5) (9.30,-0.5) (9.82,0.2) (10.34,0.5) (10.75,1) (11.17,2.5) (11.58,5) (11.8,7) (12.00,8)
 };
 \addplot[c80, line width=1.1pt] coordinates {
 (0.00,7.5) (0.57,9) (1.19,11) (1.82,13.5) (2.23,15) (2.65,16.2) (3.06,15.8) (3.38,15) (3.79,14.2) (4.21,14) (4.62,12) (5.14,10) (5.45,9) (5.97,6) (6.49,4.5) (7.22,3) (7.84,1.8) (8.26,1.2) (8.68,0.7) (9.30,1) (9.82,1) (10.34,1) (10.96,1) (11.38,1.3) (11.69,4) (12.00,7)
 };
 \addplot[black, dash pattern=on 3pt off 2pt, line width=0.6pt, forget plot] coordinates {(0,0) (12,0)};
\end{axis}

% ---------------- (e) FSD ----------------
\begin{axis}[eaxis, at={(47.25pt,-708pt)}, anchor=south west, width=277.5pt, height=203.25pt,
  ymin=300, ymax=400, ytick={300,320,340,360,365,380,400}, yticklabels={300,320,340,360,0,15,35},
  minor ytick={310,330,350,370,390}, ylabel={Day of Year}]
 \addplot[black, dash pattern=on 4pt off 2.5pt, line width=0.7pt, forget plot] coordinates {(2009,365) (2018.15,365)};
 \addplot[c5e, mark=*] coordinates {(2009,326) (2010,322) (2011,330) (2012,322) (2013,322) (2014,330) (2015,323) (2016,331)};
 \addplot[c5e, only marks, mark=*] coordinates {(2018,312)};
 \addplot[c20e, mark=*] coordinates {(2009,351) (2010,343) (2011,356) (2012,357) (2013,347) (2014,353) (2015,349) (2016,362)};
 \addplot[c20e, only marks, mark=*] coordinates {(2018,350)};
 \addplot[c40e, mark=*] coordinates {(2009,360) (2010,357) (2011,380) (2012,368) (2013,363) (2014,375)};
 \node[font=\fontsize{15.5}{18}\selectfont] at (axis description cs:0.49,0.894) {FSD};
\end{axis}
\begin{axis}[einner, at={(47.25pt,-708pt)}, anchor=south west, width=277.5pt, height=203.25pt,
  ymin=300, ymax=400, ytick={300,320,340,360,365,380,400}, minor ytick={310,330,350,370,390}]
 \addplot[draw=none, forget plot] coordinates {(2010,350)};
\end{axis}

% ---------------- (e) TED ----------------
\begin{axis}[eaxis, at={(355.5pt,-706.5pt)}, anchor=south west, width=275.25pt, height=201.75pt,
  ymin=0, ymax=100, ytick={0,20,...,100}, minor ytick={10,30,...,90}]
 \addplot[c5e, mark=*] coordinates {(2009,75) (2010,83) (2011,70) (2012,64) (2013,73) (2014,62) (2015,70) (2016,73)};
 \addplot[c5e, only marks, mark=*] coordinates {(2018,71)};
 \addplot[c20e, mark=*] coordinates {(2009,55) (2010,64) (2011,56) (2012,53) (2013,58) (2014,50) (2015,66) (2016,60)};
 \addplot[c20e, only marks, mark=*] coordinates {(2018,51)};
 \addplot[c40e, mark=*] coordinates {(2009,55) (2010,63) (2011,55) (2012,52) (2013,57) (2014,49)};
 \node[font=\fontsize{15.5}{18}\selectfont] at (axis description cs:0.5,0.894) {TED};
\end{axis}
\begin{axis}[einner, at={(355.5pt,-706.5pt)}, anchor=south west, width=275.25pt, height=201.75pt,
  ymin=0, ymax=100, ytick={0,20,...,100}, minor ytick={10,30,...,90}]
 \addplot[draw=none, forget plot] coordinates {(2010,50)};
\end{axis}

% ---------------- (e) F/T duration ----------------
\begin{axis}[eaxis, at={(678.75pt,-707.25pt)}, anchor=south west, width=276pt, height=202.5pt,
  ymin=0, ymax=200, ytick={0,40,...,200}, minor ytick={20,60,...,180}, ylabel={Number of Days}]
 \addplot[c5e, mark=*] coordinates {(2009,114) (2010,126) (2011,105) (2012,108) (2013,116) (2014,97) (2015,112) (2016,108)};
 \addplot[c5e, only marks, mark=*] coordinates {(2018,124)};
 \addplot[c20e, mark=*] coordinates {(2009,69) (2010,86) (2011,65) (2012,62) (2013,76) (2014,62) (2015,82) (2016,64)};
 \addplot[c20e, only marks, mark=*] coordinates {(2018,66)};
 \addplot[c40e, mark=*] coordinates {(2009,60) (2010,71) (2011,40) (2012,50) (2013,59) (2014,39)};
 \node[font=\fontsize{15.5}{18}\selectfont] at (axis description cs:0.5,0.894) {F/T duration};
\end{axis}
\begin{axis}[einner, at={(678.75pt,-707.25pt)}, anchor=south west, width=276pt, height=202.5pt,
  ymin=0, ymax=200, ytick={0,40,...,200}, minor ytick={20,60,...,180}]
 \addplot[draw=none, forget plot] coordinates {(2010,100)};
\end{axis}

% ---------------- shared legend ----------------
\begin{axis}[hide axis, scale only axis, width=5pt, height=5pt, at={(402.75pt,-757pt)}, anchor=center,
  xmin=0, xmax=1, ymin=0, ymax=1, legend columns=6,
  legend style={at={(0.5,0.5)}, anchor=center, draw=none, fill=none,
    font=\fontsize{12}{14}\selectfont, /tikz/every even column/.append style={column sep=7.5pt}},
  legend image code/.code={\draw[#1] (0pt,0pt) -- (27pt,0pt);}]
 \addlegendimage{draw=c5, line width=1.4pt}\addlegendentry{5 cm}
 \addlegendimage{draw=c20, line width=1.4pt}\addlegendentry{20 cm}
 \addlegendimage{draw=c40, line width=1.4pt}\addlegendentry{40 cm}
 \addlegendimage{draw=c80, line width=1.4pt}\addlegendentry{80 cm}
 \addlegendimage{draw=cP, line width=1.4pt}\addlegendentry{P}
 \addlegendimage{draw=cTa, densely dotted, line width=1.4pt}\addlegendentry{Ta}
\end{axis}

% ---------------- panel tags ----------------
\node[anchor=west, inner sep=0pt, font=\fontsize{14.5}{17}\selectfont] at (46.5pt,-18.75pt) {(a)};
\node[anchor=west, inner sep=0pt, font=\fontsize{14.5}{17}\selectfont] at (664.3pt,-17.6pt) {(b)};
\node[anchor=west, inner sep=0pt, font=\fontsize{14.5}{17}\selectfont] at (47.25pt,-242.25pt) {(c)};
\node[anchor=west, inner sep=0pt, font=\fontsize{14.5}{17}\selectfont] at (665pt,-241.5pt) {(d)};
\node[anchor=west, inner sep=0pt, font=\fontsize{14.5}{17}\selectfont] at (47.25pt,-487.5pt) {(e)};
\end{tikzpicture}
\end{document}
